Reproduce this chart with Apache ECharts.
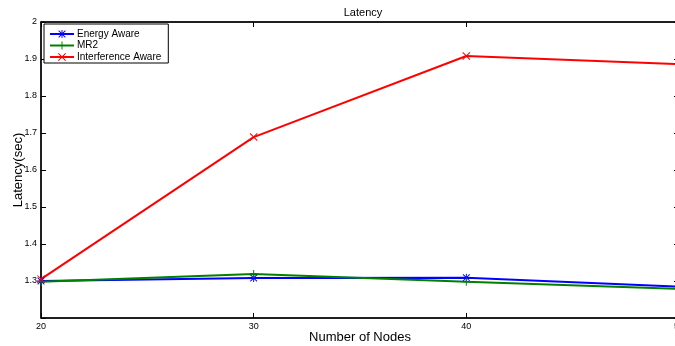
<!DOCTYPE html>
<html>
<head>
<meta charset="utf-8">
<script src="https://cdn.jsdelivr.net/npm/echarts@6/dist/echarts.min.js"></script>
<style>
  html, body { margin: 0; padding: 0; background: #fff; }
  #chart { width: 675px; height: 346px; }
</style>
</head>
<body>
<div id="chart"></div>
<script>
// data
var nodes = [20, 30, 40, 50];
var energyAware = [1.300, 1.308, 1.309, 1.285];
var mr2 = [1.298, 1.319, 1.298, 1.279];
var interferenceAware = [1.305, 1.689, 1.908, 1.886];
var yTicks = [1.2, 1.3, 1.4, 1.5, 1.6, 1.7, 1.8, 1.9, 2];

var FONT = 'Liberation Sans, Arial, sans-serif';

// marker shapes
var plusPath = 'path://M4.4,0h1.2v10h-1.2z M0,4.4h10v1.2h-10z';
var starPath = 'path://M4.4,0h1.2v10h-1.2z M0,4.4h10v1.2h-10z M1.2,0.4L9.6,8.8L8.8,9.6L0.4,1.2z M8.8,0.4L9.6,1.2L1.2,9.6L0.4,8.8z';
var crossPath = 'path://M1.2,0.4L9.6,8.8L8.8,9.6L0.4,1.2z M8.8,0.4L9.6,1.2L1.2,9.6L0.4,8.8z';

function pairs(vals) {
  return nodes.map(function (n, i) { return [n, vals[i]]; });
}

function makeSeries(name, vals, color, symbol) {
  return {
    name: name,
    type: 'line',
    data: pairs(vals),
    symbol: symbol,
    symbolSize: 8,
    lineStyle: { color: color, width: 2 },
    itemStyle: { color: color },
    animation: false
  };
}

var chart = echarts.init(document.getElementById('chart'));

chart.setOption({
  backgroundColor: '#fff',
  title: {
    text: 'Latency',
    left: 358,
    textAlign: 'center',
    top: 2,
    textStyle: { fontFamily: FONT, fontSize: 11, fontWeight: 'normal', color: '#000' }
  },
  legend: {
    orient: 'vertical',
    left: 44,
    top: 24,
    padding: [5, 7, 1, 5],
    itemGap: 1.5,
    itemWidth: 24,
    itemHeight: 10,
    backgroundColor: '#fff',
    borderColor: '#000',
    borderWidth: 1,
    borderRadius: 0,
    textStyle: { fontFamily: FONT, fontSize: 10, color: '#000', padding: [0, 0, 0, -2] },
    data: ['Energy Aware', 'MR2', 'Interference Aware']
  },
  grid: {
    left: 41,
    top: 22,
    bottom: 28,
    right: -4,
    containLabel: false,
    outerBoundsMode: 'none',
    show: true,
    borderColor: '#000',
    borderWidth: 1,
    backgroundColor: '#fff'
  },
  xAxis: [{
    type: 'value',
    min: 20,
    max: 50,
    interval: 10,
    name: 'Number of Nodes',
    nameLocation: 'middle',
    nameGap: 13,
    nameMoveOverlap: false,
    nameTextStyle: { fontFamily: FONT, fontSize: 13, color: '#000' },
    axisLine: { lineStyle: { color: '#000', width: 1.5 } },
    axisTick: { inside: true, length: 5, lineStyle: { color: '#000' } },
    axisLabel: { fontFamily: FONT, fontSize: 9, color: '#000', margin: 4 },
    splitLine: { show: false }
  }, {
    type: 'value',
    position: 'top',
    min: 20,
    max: 50,
    interval: 10,
    axisLine: { lineStyle: { color: '#000', width: 1.5 } },
    axisTick: { inside: true, length: 5, lineStyle: { color: '#000' } },
    axisLabel: { show: false },
    splitLine: { show: false }
  }],
  yAxis: [{
    type: 'value',
    min: yTicks[0],
    max: yTicks[yTicks.length - 1],
    interval: 0.1,
    name: 'Latency(sec)',
    nameLocation: 'middle',
    nameGap: 16,
    nameMoveOverlap: false,
    nameTextStyle: { fontFamily: FONT, fontSize: 13, color: '#000' },
    axisLine: { show: true, lineStyle: { color: '#000', width: 1.5 } },
    axisTick: { show: true, inside: true, length: 5, lineStyle: { color: '#000' } },
    axisLabel: {
      fontFamily: FONT, fontSize: 9, color: '#000', margin: 4,
      formatter: function (v) {
        var r = Math.round(v * 10) / 10;
        return r === 1.2 ? '' : String(r);
      }
    },
    splitLine: { show: false }
  }, {
    type: 'value',
    position: 'right',
    min: yTicks[0],
    max: yTicks[yTicks.length - 1],
    interval: 0.1,
    axisLine: { show: true, lineStyle: { color: '#000', width: 1.5 } },
    axisTick: { show: true, inside: true, length: 5, lineStyle: { color: '#000' } },
    axisLabel: { show: false },
    splitLine: { show: false }
  }],
  series: [
    makeSeries('Energy Aware', energyAware, '#0000ff', starPath),
    makeSeries('MR2', mr2, '#008000', plusPath),
    makeSeries('Interference Aware', interferenceAware, '#ff0000', crossPath)
  ]
});
</script>
</body>
</html>
